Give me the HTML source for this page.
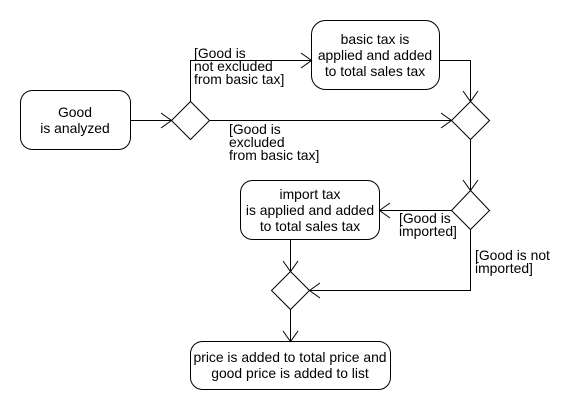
<!DOCTYPE html>
<html><head><style>body{margin:0;background:#fff}</style></head><body>
<svg width="580" height="410" xmlns="http://www.w3.org/2000/svg" font-family="Liberation Sans, sans-serif" font-size="13.9">
<rect width="580" height="410" fill="#fff"/>
<g fill="none" stroke="#000" stroke-width="1">
<rect x="20.5" y="90.5" width="110" height="59" rx="12"/>
<rect x="311.5" y="20.5" width="128" height="69" rx="14"/>
<rect x="240.5" y="180.5" width="139" height="59" rx="12"/>
<rect x="190.5" y="341.5" width="200" height="48" rx="12"/>
<polygon points="190.5,101.5 209.5,120.5 190.5,139.5 171.5,120.5"/>
<polygon points="470.5,101.5 489.5,120.5 470.5,139.5 451.5,120.5"/>
<polygon points="470.5,190.5 489.5,210.5 470.5,229.5 451.5,210.5"/>
<polygon points="290.5,271.5 309.5,290.5 290.5,309.5 271.5,290.5"/>
<path d="M130.5 120.5H171.5 M161 113L171.5 120.5L161 128"/>
<path d="M190.5 101.5V60.5H311.5 M301 53L311.5 60.5L301 68"/>
<path d="M439.5 60.5H470.5V101.5 M463 91L470.5 101.5L478 91"/>
<path d="M209.5 120.5H451.5 M441 113L451.5 120.5L441 128"/>
<path d="M470.5 139.5V190.5 M463 180L470.5 190.5L478 180"/>
<path d="M451.5 210.5H379.5 M390 203L379.5 210.5L390 218"/>
<path d="M470.5 229.5V290.5H309.5 M320 283L309.5 290.5L320 298"/>
<path d="M290.5 239.5V271.5 M283 261L290.5 271.5L298 261"/>
<path d="M290.5 309.5V341.5 M283 331L290.5 341.5L298 331"/>
</g>
<g fill="#000" text-anchor="middle">
<text x="75" y="117">Good</text><text x="75" y="133">is analyzed</text>
<text x="375" y="44">basic tax is</text><text x="375" y="60">applied and added</text><text x="375" y="76">to total sales tax</text>
<text x="310" y="199">import tax</text><text x="310" y="215">is applied and added</text><text x="310" y="231">to total sales tax</text>
<text x="290" y="362">price is added to total price and</text><text x="290" y="378">good price is added to list</text>
</g>
<g fill="#000">
<text x="194" y="58">[Good is</text><text x="194" y="71">not excluded</text><text x="194" y="84">from basic tax]</text>
<text x="229" y="134">[Good is</text><text x="229" y="147">excluded</text><text x="229" y="160">from basic tax]</text>
<text x="399" y="223">[Good is</text><text x="399" y="236">imported]</text>
<text x="475" y="260">[Good is not</text><text x="475" y="273">imported]</text>
</g>
</svg>
</body></html>
